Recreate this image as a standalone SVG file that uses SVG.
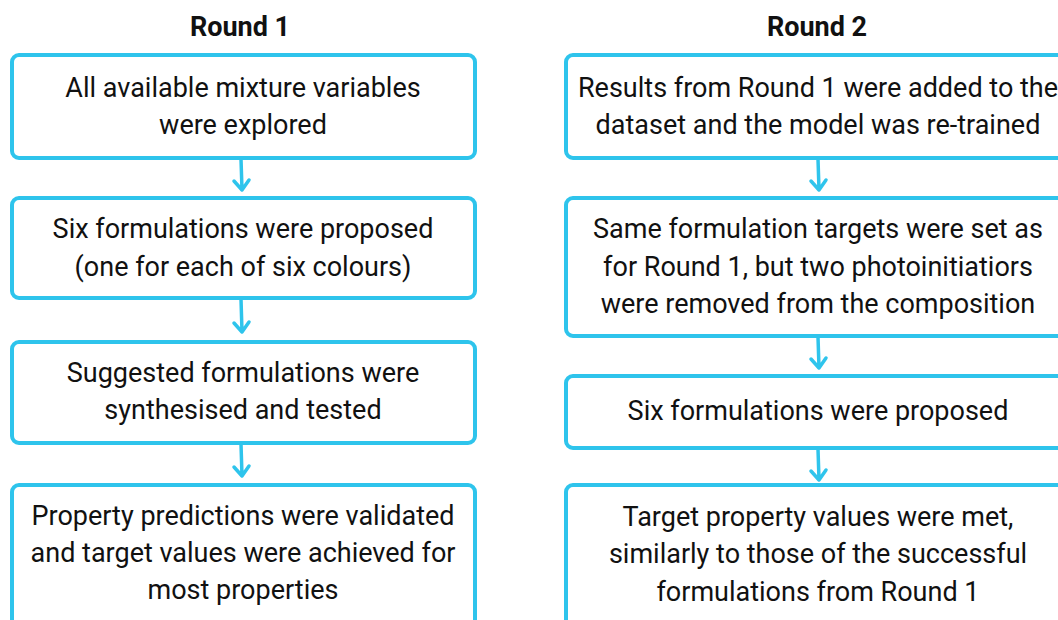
<svg xmlns="http://www.w3.org/2000/svg" width="1058" height="620" viewBox="0 0 1058 620">
<style>
.box{fill:#fff;stroke:#2ec4ec;stroke-width:4}
.t{font-family:Roboto,"Liberation Sans",sans-serif;font-size:27px;fill:#111;text-anchor:middle}
.h{font-family:Roboto,"Liberation Sans",sans-serif;font-size:27px;font-weight:bold;fill:#111;text-anchor:middle}
.c{fill:none;stroke:#2ec4ec;stroke-width:3.5;stroke-linecap:round;stroke-linejoin:round}
</style>
<rect width="1058" height="620" fill="#fff"/>
<text class="h" x="240" y="36">Round 1</text>
<text class="h" x="817" y="36">Round 2</text>
<g id="connectors">
<path class="c" d="M241 159 L242 190 M234 181 L242 190 L249 180"/>
<path class="c" d="M241 299 L242 332 M234 323 L242 332 L249 322"/>
<path class="c" d="M241 444 L242 476 M234 467 L242 476 L249 466"/>
<path class="c" d="M818 159 L819 190 M811 181 L819 190 L826 180"/>
<path class="c" d="M818 337 L819 368 M811 359 L819 368 L826 358"/>
<path class="c" d="M818 449 L819 480 M811 471 L819 480 L826 470"/>
</g>
<g id="l1"><rect class="box" x="12" y="55" width="463" height="103" rx="7"/>
<text class="t" x="243" y="97">All available mixture variables</text>
<text class="t" x="243" y="134">were explored</text></g>
<g id="l2"><rect class="box" x="12" y="198" width="463" height="100" rx="7"/>
<text class="t" x="243" y="238">Six formulations were proposed</text>
<text class="t" x="243" y="276">(one for each of six colours)</text></g>
<g id="l3"><rect class="box" x="12" y="342" width="463" height="101" rx="7"/>
<text class="t" x="243" y="382">Suggested formulations were</text>
<text class="t" x="243" y="419">synthesised and tested</text></g>
<g id="l4"><rect class="box" x="12" y="485" width="463" height="160" rx="7"/>
<text class="t" x="243" y="525">Property predictions were validated</text>
<text class="t" x="243" y="562">and target values were achieved for</text>
<text class="t" x="243" y="599">most properties</text></g>
<g id="r1"><rect class="box" x="566" y="55" width="510" height="103" rx="7"/>
<text class="t" x="818" y="97">Results from Round 1 were added to the</text>
<text class="t" x="818" y="134">dataset and the model was re-trained</text></g>
<g id="r2"><rect class="box" x="566" y="198" width="510" height="138" rx="7"/>
<text class="t" x="818" y="238">Same formulation targets were set as</text>
<text class="t" x="818" y="276">for Round 1, but two photoinitiatiors</text>
<text class="t" x="818" y="313">were removed from the composition</text></g>
<g id="r3"><rect class="box" x="566" y="376" width="510" height="72" rx="7"/>
<text class="t" x="818" y="420">Six formulations were proposed</text></g>
<g id="r4"><rect class="box" x="566" y="485" width="510" height="160" rx="7"/>
<text class="t" x="818" y="526">Target property values were met,</text>
<text class="t" x="818" y="563">similarly to those of the successful</text>
<text class="t" x="818" y="601">formulations from Round 1</text></g>
</svg>
